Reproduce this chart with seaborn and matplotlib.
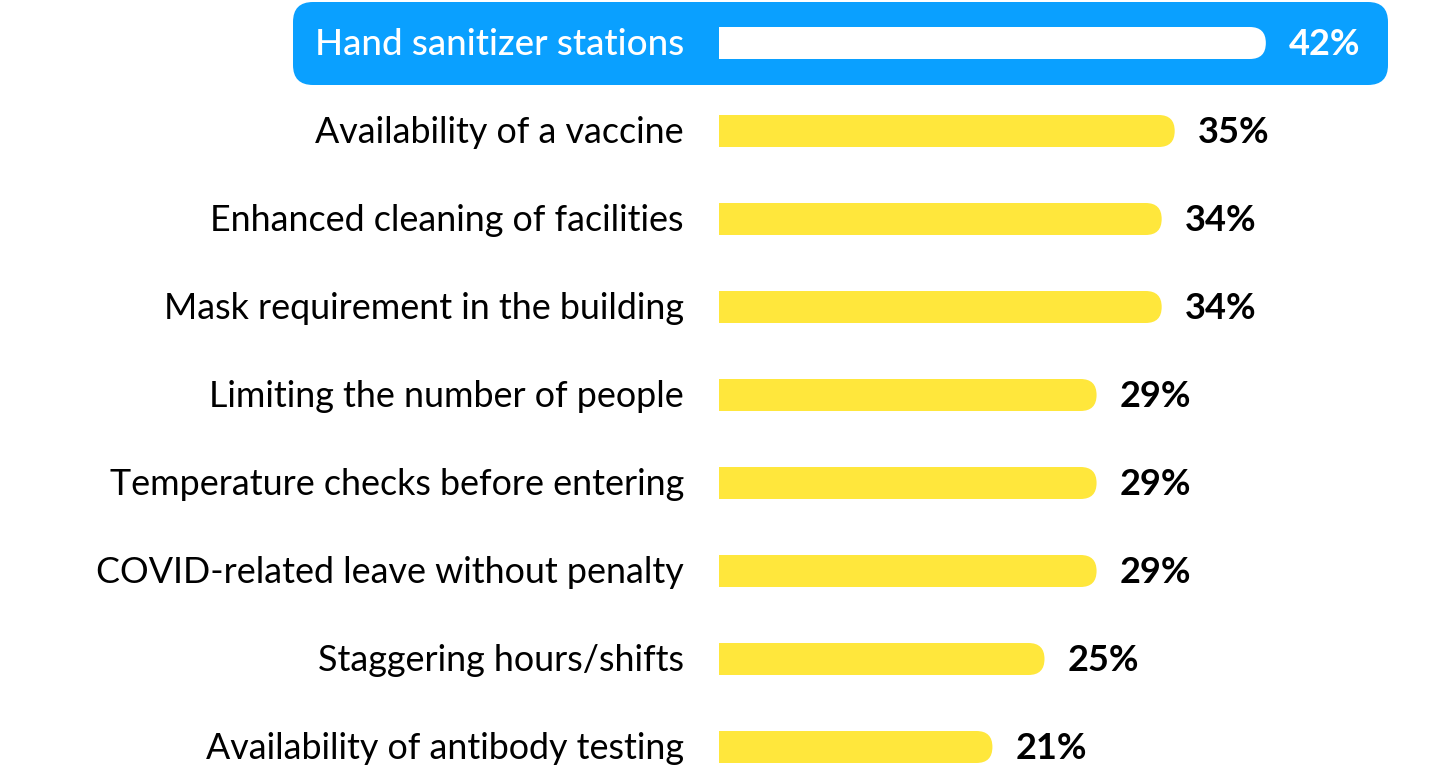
import pandas as pd
import seaborn as sns
import matplotlib
matplotlib.use('Agg')
import matplotlib.pyplot as plt
from matplotlib.patches import FancyBboxPatch, Rectangle

measures = [
    'Hand sanitizer stations',
    'Availability of a vaccine',
    'Enhanced cleaning of facilities',
    'Mask requirement in the building',
    'Limiting the number of people',
    'Temperature checks before entering',
    'COVID-related leave without penalty',
    'Staggering hours/shifts',
    'Availability of antibody testing',
]
share = [42, 35, 34, 34, 29, 29, 29, 25, 21]
value_labels = ['42%', '35%', '34%', '34%', '29%', '29%', '29%', '25%', '21%']

BLUE = '#0AA0FF'
YELLOW = '#FFE73C'

df = pd.DataFrame({'measure': measures, 'share': share})

sns.set_theme(style='white')
plt.rcParams['font.family'] = ['Lato', 'DejaVu Sans']

W, H = 1440, 770
fig = plt.figure(figsize=(W / 100, H / 100), dpi=100)
ax = fig.add_axes([0, 0, 1, 1])

# pixel layout: bar origin at x=719, 13.02 px per percent, rows 88 px apart
x0_px, px_per = 719, 13.02
row0_px, row_px = 43, 88
bar_h = 32 / row_px

sns.barplot(data=df, x='share', y='measure', orient='h', color=YELLOW,
            width=bar_h, ax=ax)

ax.set_xlim(-x0_px / px_per, (W - x0_px) / px_per)
ax.set_ylim((H - row0_px) / row_px, -row0_px / row_px)
ax.axis('off')

aspect = (1 / row_px) / (1 / px_per)

# highlight box behind first row
bx0 = (293 - x0_px) / px_per
bx1 = (1388 - x0_px) / px_per
by0 = (2 - row0_px) / row_px
by1 = (85 - row0_px) / row_px
rx = 20 / px_per
ax.add_patch(FancyBboxPatch((bx0, by0), bx1 - bx0, by1 - by0,
                            boxstyle=f'round,pad=0,rounding_size={rx}',
                            mutation_aspect=aspect, fc=BLUE, ec='none', zorder=0))

# rounded right ends on bars, square left ends
cap = 16 / px_per
bars = [p for p in ax.patches if isinstance(p, Rectangle)][:len(share)]
for i, p in enumerate(bars):
    x, y, w, h = p.get_x(), p.get_y(), p.get_width(), p.get_height()
    p.set_visible(False)
    c = 'white' if i == 0 else YELLOW
    ax.add_patch(FancyBboxPatch((x, y), w, h,
                                boxstyle=f'round,pad=0,rounding_size={cap}',
                                mutation_aspect=aspect, fc=c, ec='none', zorder=2))
    ax.add_patch(Rectangle((x, y), w / 2, h, fc=c, ec='none', zorder=2))

base_off = 12 / row_px
for i, (m, v, lab) in enumerate(zip(measures, share, value_labels)):
    tc = 'white' if i == 0 else 'black'
    ax.text(-35 / px_per, i + base_off, m, ha='right', va='baseline',
            fontsize=26.5 if i == 0 else 25.8, color=tc,
            fontweight='medium' if i == 0 else 'normal', zorder=3)
    ax.text(v + 23 / px_per, i + base_off, lab, ha='left', va='baseline',
            fontsize=26, color=tc, fontweight='bold', zorder=3)

fig.savefig('out.png', dpi=100, facecolor='white')
